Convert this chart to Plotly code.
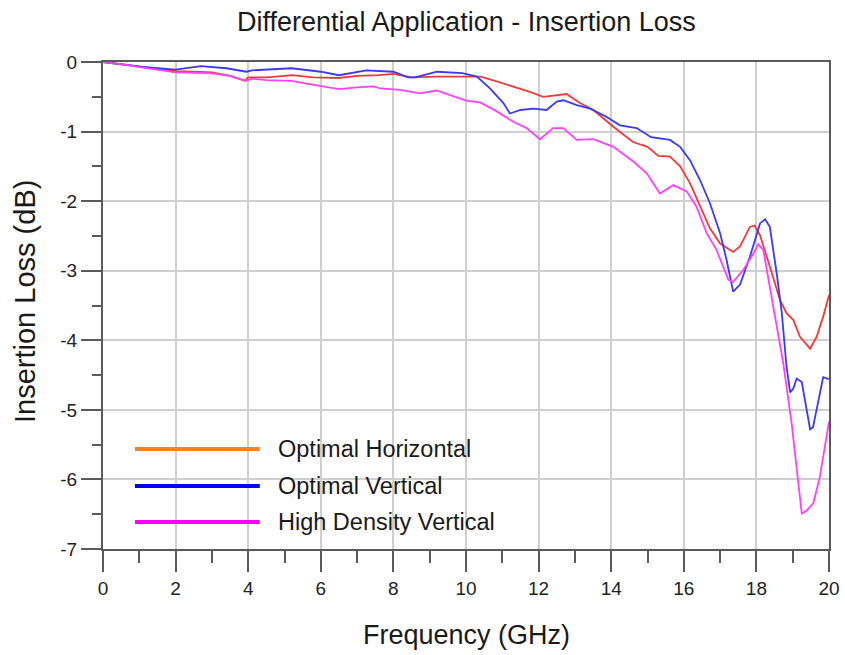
import plotly.graph_objects as go

# ---------------- data ----------------
freq_h = [0, 0.5, 1.0, 1.5, 2.0, 2.5, 3.0, 3.5, 3.9, 4.0, 4.5, 5.0, 5.2, 5.8, 6.5, 7.0,
          7.6, 8.0, 8.5, 9.2, 10.0, 10.4, 10.85, 11.3, 11.76, 12.13, 12.5, 12.77, 13.14,
          13.51, 14.06, 14.6, 15.0, 15.3, 15.62, 15.9, 16.17, 16.45, 16.72, 17.0, 17.36,
          17.55, 17.82, 17.95, 18.1, 18.37, 18.65, 18.83, 19.02, 19.2, 19.48, 19.66,
          19.84, 20.0]
il_h = [0, -0.03, -0.06, -0.10, -0.13, -0.14, -0.15, -0.20, -0.27, -0.22, -0.22, -0.20,
        -0.19, -0.22, -0.23, -0.20, -0.19, -0.17, -0.22, -0.21, -0.21, -0.21, -0.28,
        -0.35, -0.43, -0.50, -0.48, -0.46, -0.59, -0.69, -0.93, -1.15, -1.22, -1.35,
        -1.36, -1.50, -1.74, -2.08, -2.39, -2.61, -2.73, -2.65, -2.37, -2.35, -2.49,
        -2.94, -3.42, -3.61, -3.71, -3.95, -4.12, -3.95, -3.66, -3.35]

freq_v = [0, 0.5, 1.1, 2.0, 2.7, 3.4, 3.95, 4.1, 5.2, 6.0, 6.5, 7.25, 7.63, 8.0, 8.4,
          8.6, 9.2, 9.9, 10.3, 10.66, 11.03, 11.21, 11.5, 11.85, 12.22, 12.5, 12.68,
          13.05, 13.42, 13.88, 14.24, 14.7, 15.1, 15.62, 15.9, 16.17, 16.45, 16.72, 17.0,
          17.18, 17.36, 17.55, 17.82, 18.1, 18.24, 18.37, 18.56, 18.7, 18.83, 18.93,
          19.02, 19.11, 19.25, 19.38, 19.48, 19.56, 19.66, 19.84, 20.0]
il_v = [0, -0.03, -0.07, -0.11, -0.06, -0.09, -0.14, -0.12, -0.09, -0.14, -0.19, -0.12,
        -0.13, -0.14, -0.22, -0.22, -0.14, -0.16, -0.21, -0.38, -0.59, -0.74, -0.69,
        -0.67, -0.69, -0.57, -0.55, -0.62, -0.67, -0.79, -0.91, -0.95, -1.08, -1.12,
        -1.22, -1.41, -1.70, -2.03, -2.46, -2.85, -3.30, -3.20, -2.80, -2.32, -2.26,
        -2.37, -3.04, -3.61, -4.38, -4.75, -4.69, -4.55, -4.60, -5.00, -5.28, -5.25,
        -5.00, -4.53, -4.56]

freq_hd = [0, 0.5, 1.1, 2.0, 2.95, 3.5, 3.95, 4.1, 4.5, 5.2, 5.6, 6.5, 7.08, 7.45, 7.63,
           8.18, 8.73, 9.19, 10.02, 10.39, 10.85, 11.3, 11.67, 12.04, 12.4, 12.68, 13.05,
           13.51, 14.06, 14.61, 14.98, 15.34, 15.71, 16.08, 16.35, 16.63, 16.9, 17.23,
           17.36, 17.64, 17.92, 18.05, 18.19, 18.37, 18.56, 18.74, 18.97, 19.11, 19.25,
           19.38, 19.57, 19.75, 19.89, 20.0]
il_hd = [0, -0.03, -0.08, -0.15, -0.16, -0.20, -0.27, -0.24, -0.26, -0.27, -0.31, -0.39,
         -0.36, -0.35, -0.38, -0.40, -0.45, -0.41, -0.56, -0.58, -0.71, -0.86, -0.95,
         -1.11, -0.95, -0.95, -1.12, -1.11, -1.22, -1.43, -1.60, -1.89, -1.77, -1.86,
         -2.08, -2.46, -2.70, -3.13, -3.16, -2.99, -2.75, -2.62, -2.70, -3.23, -3.80,
         -4.33, -5.19, -5.82, -6.49, -6.45, -6.34, -5.96, -5.48, -5.17]

series_names = ["Optimal Horizontal", "Optimal Vertical", "High Density Vertical"]
line_colors = ["#f23a3a", "#3a3af5", "#ff40ff"]
legend_colors = ["#ff7f27", "#0000ff", "#ff00ff"]

x_tickvals = [0, 2, 4, 6, 8, 10, 12, 14, 16, 18, 20]
x_ticktext = ["0", "2", "4", "6", "8", "10", "12", "14", "16", "18", "20"]
y_tickvals = [0, -1, -2, -3, -4, -5, -6, -7]
y_ticktext = ["0", "-1", "-2", "-3", "-4", "-5", "-6", "-7"]

FONT = "Liberation Sans, Arial, sans-serif"
AXIS = "#5a5a5a"
GRID = "#cfcfcf"

fig = go.Figure()
for fx, fy, name, col in zip([freq_h, freq_v, freq_hd], [il_h, il_v, il_hd],
                             series_names, line_colors):
    fig.add_trace(go.Scatter(x=fx, y=fy, mode="lines", name=name,
                             line=dict(color=col, width=1.8), showlegend=False))

# custom legend (long line samples, as in the reference)
leg_y = [0.2053, 0.1294, 0.0554]
for name, col, yy in zip(series_names, legend_colors, leg_y):
    fig.add_shape(type="line", xref="paper", yref="paper", x0=0.044, x1=0.216,
                  y0=yy, y1=yy, line=dict(color=col, width=4))
    fig.add_annotation(xref="paper", yref="paper", x=0.2385, y=yy, text=name,
                       showarrow=False, xanchor="left", yanchor="middle",
                       font=dict(family=FONT, size=23.5, color="#1a1a1a"))

fig.add_annotation(xref="paper", yref="paper", x=0.5, y=(655 - 22 - 106) / 487,
                   text="Differential Application - Insertion Loss", showarrow=False,
                   xanchor="center", yanchor="middle",
                   font=dict(family=FONT, size=27, color="#1a1a1a"))
fig.add_annotation(xref="paper", yref="paper", x=0.5, y=-(635 - 549) / 487,
                   text="Frequency (GHz)", showarrow=False,
                   xanchor="center", yanchor="middle",
                   font=dict(family=FONT, size=27, color="#1a1a1a"))
fig.add_annotation(xref="paper", yref="paper", x=-(103 - 25) / 726, y=(549 - 302) / 487,
                   text="Insertion Loss (dB)", showarrow=False, textangle=-90,
                   xanchor="center", yanchor="middle",
                   font=dict(family=FONT, size=29, color="#1a1a1a"))

fig.update_layout(
    width=845, height=655, autosize=False,
    margin=dict(l=103, r=16, t=62, b=106, autoexpand=False),
    paper_bgcolor="white", plot_bgcolor="white",
    font=dict(family=FONT, color="#222222"),
)
fig.update_xaxes(
    range=[0, 20], tickmode="array", tickvals=x_tickvals, ticktext=x_ticktext,
    automargin=False,
    ticks="outside", ticklen=21, tickwidth=2, tickcolor=AXIS,
    showline=True, linecolor=AXIS, linewidth=2, mirror=True,
    showgrid=True, gridcolor=GRID, gridwidth=2, zeroline=False,
    tickfont=dict(family=FONT, size=19, color="#222222"),
    minor=dict(dtick=1, ticks="outside", ticklen=12, tickwidth=2, tickcolor=AXIS,
               showgrid=False),
)
fig.update_yaxes(
    range=[-7, 0], tickmode="array", tickvals=y_tickvals, ticktext=y_ticktext,
    automargin=False,
    ticks="outside", ticklen=20, tickwidth=2, tickcolor=AXIS,
    showline=True, linecolor=AXIS, linewidth=2, mirror=True,
    showgrid=True, gridcolor=GRID, gridwidth=2, zeroline=False,
    tickfont=dict(family=FONT, size=19, color="#222222"),
    minor=dict(dtick=0.5, ticks="outside", ticklen=9, tickwidth=2, tickcolor=AXIS,
               showgrid=False),
)

fig.write_html("out.html")
